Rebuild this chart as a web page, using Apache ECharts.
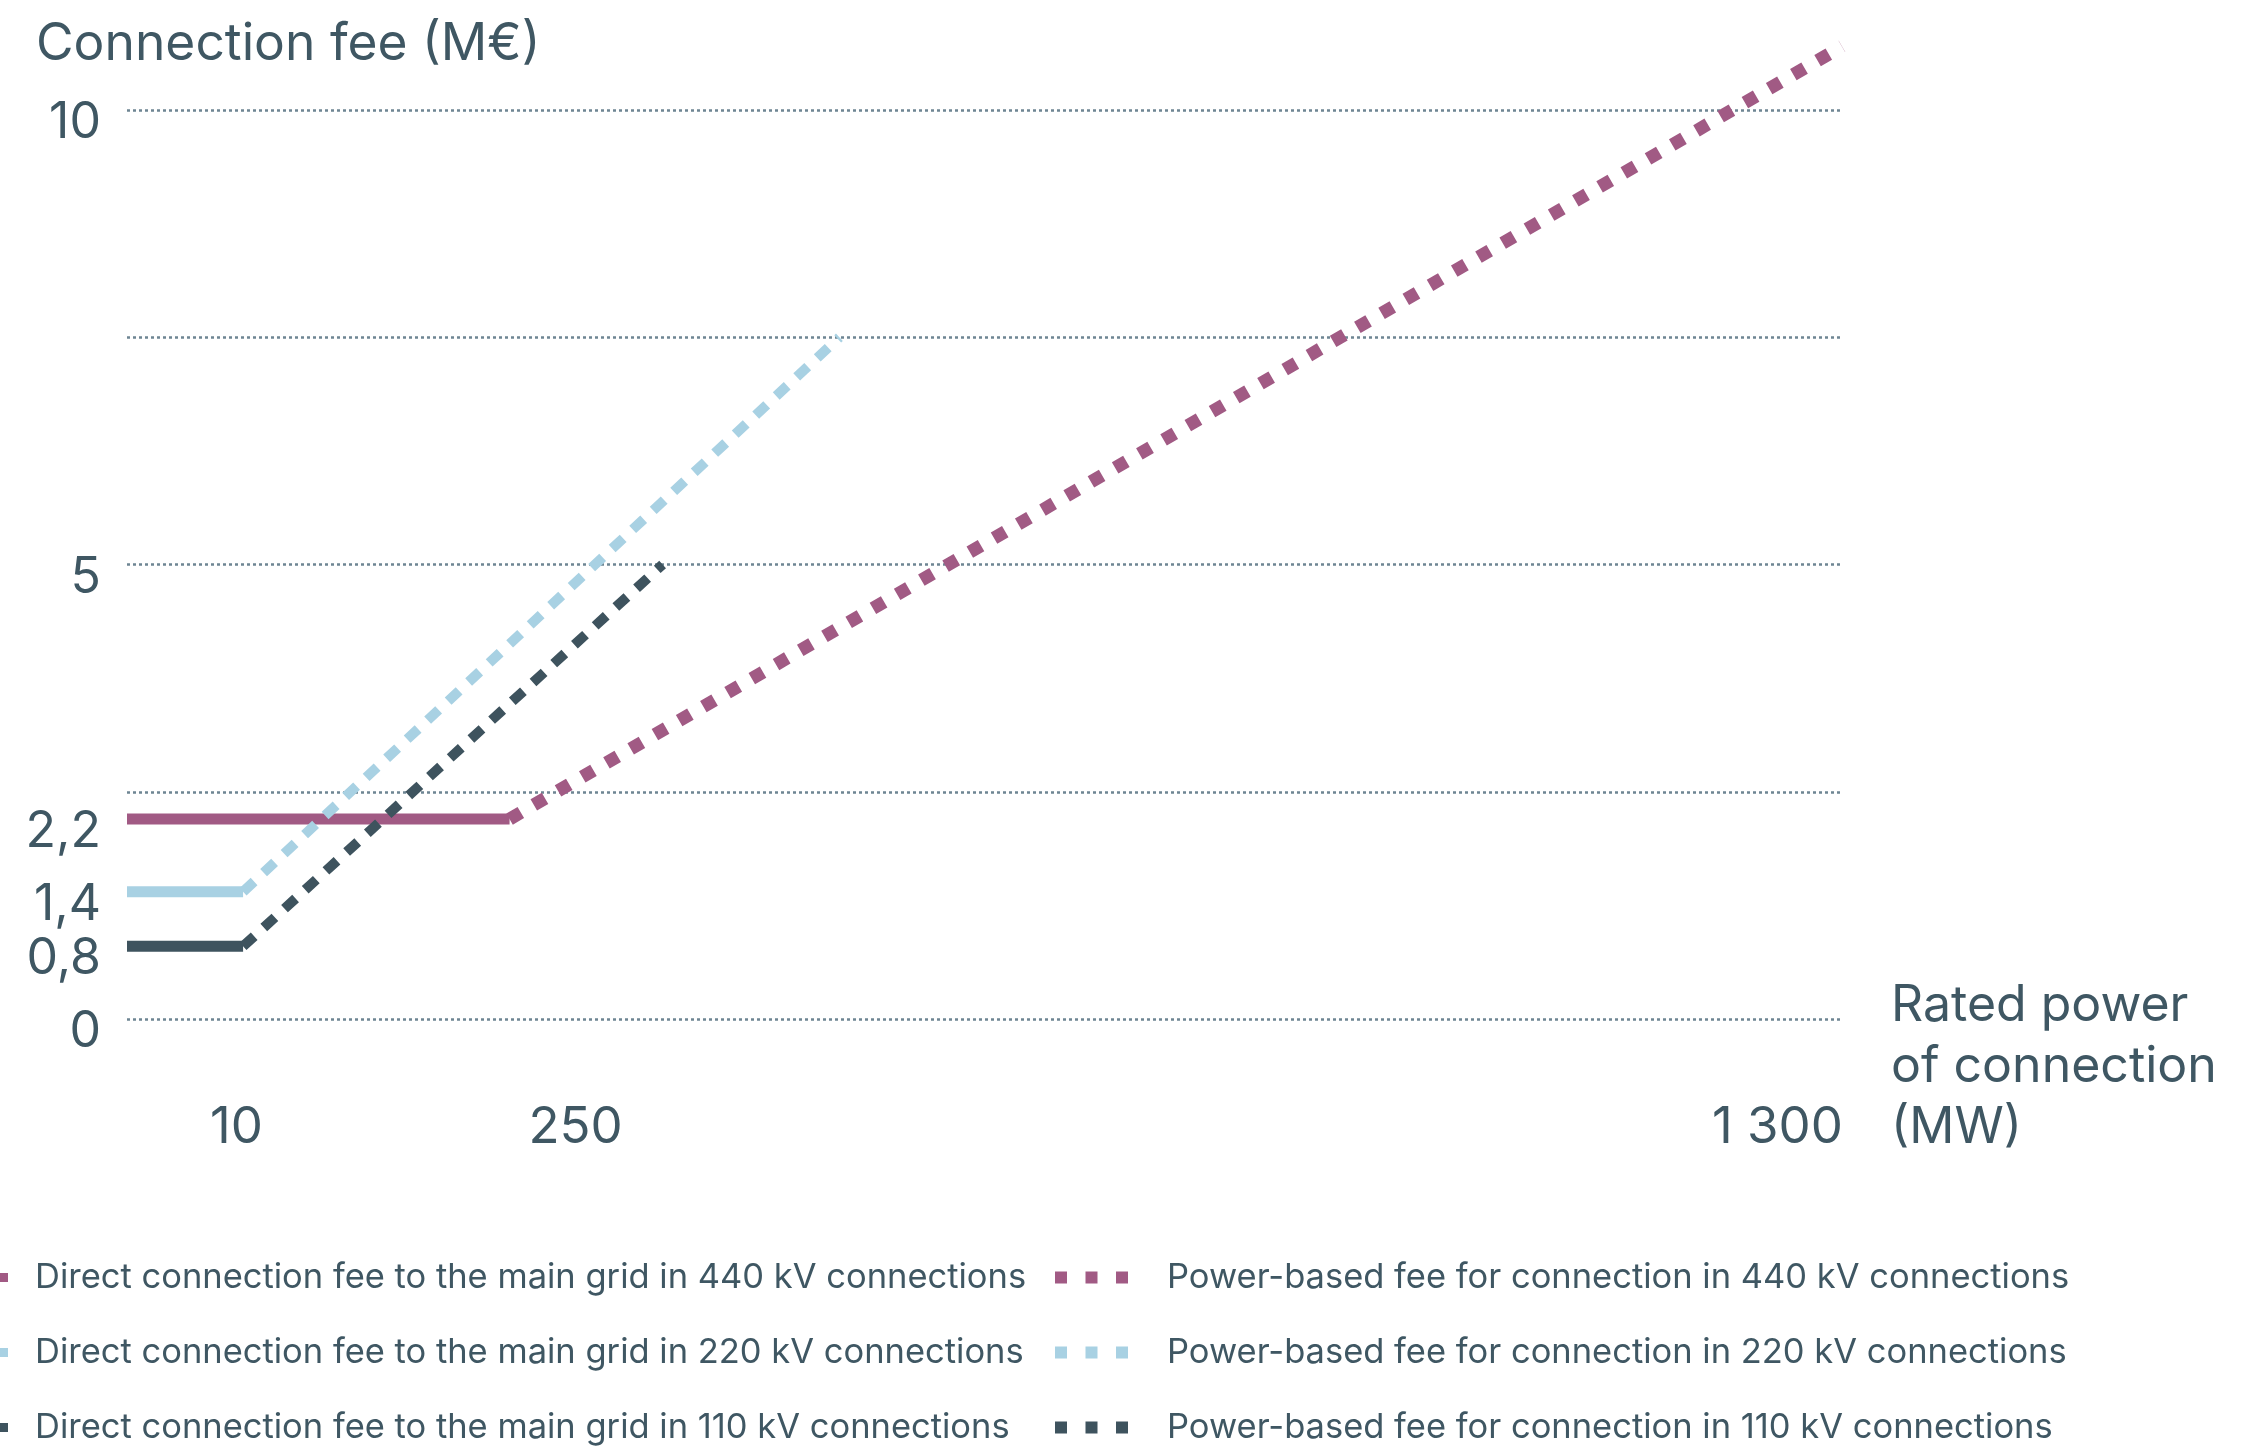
<!DOCTYPE html>
<html>
  <head>
    <meta charset="utf-8">
    <title>Connection fee</title>
    <script src="https://cdn.jsdelivr.net/npm/echarts@6/dist/echarts.min.js"></script>
    <style type="text/css">
      html, body { margin: 0; padding: 0; background: #fff; }
      #main { width: 2243px; height: 1447px; }
    </style>
  </head>
  <body>
    <div id="main"></div>
    <script type="text/javascript">
      // x is a schematic position along the power axis (the picture is not to scale)
      var xTickPos = [83, 340, 1251],
          xTickText = ['10', '250', '1 300'];
      var yTickLabels = [0, 0.8, 1.4, 2.2, 5, 10];

      // flat parts: direct connection fee
      var direct440 = [[0, 2.2], [290, 2.2]],
          direct220 = [[0, 1.4], [88, 1.4]],
          direct110 = [[0, 0.8], [88, 0.8]];
      // sloped parts: power-based fee
      var power440 = [[290, 2.2], [1300, 10.7]],
          power220 = [[88, 1.4], [540, 7.5]],
          power110 = [[88, 0.8], [406, 5.0]];

      var names = [
        'Direct connection fee to the main grid in 440 kV connections',
        'Direct connection fee to the main grid in 220 kV connections',
        'Direct connection fee to the main grid in 110 kV connections',
        'Power-based fee for connection in 440 kV connections',
        'Power-based fee for connection in 220 kV connections',
        'Power-based fee for connection in 110 kV connections'
      ];

      var cMauve = '#a15a84', cBlue = '#a8d1e3', cSlate = '#3e535e';
      var textColor = '#3f5763';
      var font = 'Inter';

      var myChart = echarts.init(document.getElementById('main'));

      function solid(name, data, color) {
        return {
          name: name, type: 'line', data: data, color: color,
          symbol: 'none', silent: true,
          lineStyle: { color: color, width: 11, type: 'solid', cap: 'butt' }
        };
      }
      function dashed(name, data, color, w, dash) {
        return {
          name: name, type: 'line', data: data, color: color,
          symbol: 'none', silent: true, clip: false,
          lineStyle: { color: color, width: w, type: dash, cap: 'butt' }
        };
      }

      var legendText = { fontFamily: font, fontSize: 34.5, color: textColor, lineHeight: 32 };

      var option = {
        animation: false,
        backgroundColor: '#fff',
        textStyle: { fontFamily: font, color: textColor },
        title: [
          {
            text: 'Connection fee (M€)',
            left: 36, top: 19, padding: 0,
            textStyle: { fontFamily: font, fontSize: 51.5, fontWeight: 'normal', color: textColor }
          },
          {
            // x axis title, set beside the tick labels at the right end
            text: 'Rated power\nof connection\n(MW)',
            left: 1891, top: 975, padding: 0,
            textStyle: { fontFamily: font, fontSize: 50, fontWeight: 'normal', color: textColor, lineHeight: 61 }
          }
        ],
        grid: { left: 127, right: 401, top: 110, bottom: 428, containLabel: false },
        legend: [
          {
            data: names.slice(0, 3),
            orient: 'vertical', left: 0, top: 1260, height: 190, padding: 0,
            itemGap: 40, itemWidth: 8, itemHeight: 9, icon: 'rect',
            selectedMode: false,
            itemStyle: { borderWidth: 0 },
            textStyle: Object.assign({ padding: [0, 0, 0, 22] }, legendText)
          },
          {
            data: names.slice(3),
            orient: 'vertical', left: 1055, top: 1260, height: 190, padding: 0,
            itemGap: 40, itemWidth: 73, itemHeight: 12,
            icon: 'path://M0,0h12v12h-12z M30.5,0h12v12h-12z M61,0h12v12h-12z',
            selectedMode: false,
            itemStyle: { borderWidth: 0 },
            textStyle: Object.assign({ padding: [0, 0, 0, 34] }, legendText)
          }
        ],
        xAxis: {
          type: 'value', min: 0, max: 1300,
          axisLine: { show: false },
          axisTick: { show: false },
          splitLine: { show: false },
          axisLabel: {
            customValues: xTickPos,
            margin: 83,
            fontFamily: font, fontSize: 51, color: textColor,
            formatter: function (v) {
              var i = xTickPos.indexOf(v);
              return i >= 0 ? xTickText[i] : '';
            }
          }
        },
        yAxis: [
          {
            type: 'value', min: 0, max: 10, interval: 2.5,
            axisLine: { show: false },
            axisTick: { show: false },
            axisLabel: { show: false },
            splitLine: { show: true, lineStyle: { color: '#6e8593', width: 2.5, type: [3, 3] } }
          },
          {
            type: 'value', min: 0, max: 10, position: 'left',
            axisLine: { show: false },
            axisTick: { show: false },
            splitLine: { show: false },
            axisLabel: {
              customValues: yTickLabels,
              margin: 26,
              verticalAlign: 'top',
              lineHeight: 26,
              fontFamily: font, fontSize: 50, color: textColor,
              formatter: function (v) { return String(v).replace('.', ','); }
            }
          }
        ],
        series: [
          solid(names[0], direct440, cMauve),
          solid(names[1], direct220, cBlue),
          solid(names[2], direct110, cSlate),
          dashed(names[3], power440, cMauve, 13, [13, 15]),
          dashed(names[4], power220, cBlue, 10, [15, 13]),
          dashed(names[5], power110, cSlate, 10, [15, 13])
        ]
      };

      myChart.setOption(option);
    </script>
  </body>
</html>
